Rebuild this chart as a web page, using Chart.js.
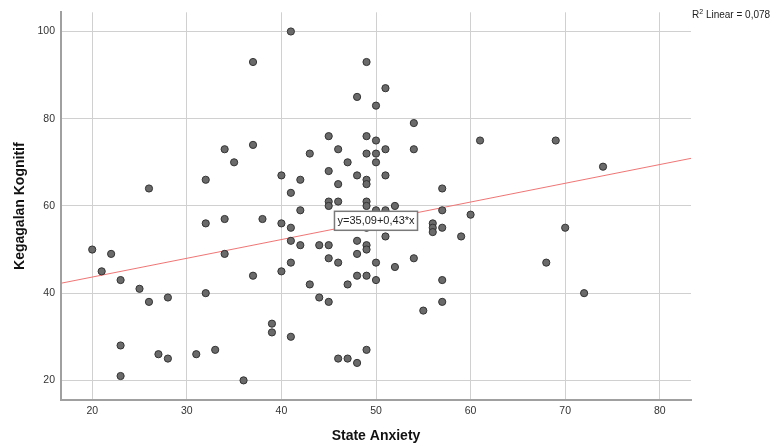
<!DOCTYPE html>
<html>
<head>
<meta charset="utf-8">
<script src="https://cdn.jsdelivr.net/npm/chart.js@4.4.1/dist/chart.umd.min.js"></script>
<style>
html,body{margin:0;padding:0;background:#fff;}
#wrap{width:770px;height:448px;}
</style>
</head>
<body>
<div id="wrap"><canvas id="scatter" width="770" height="448"></canvas></div>
<script>
// State Anxiety (x) vs Kegagalan Kognitif (y)
const anxiety = [20,21,22,23,23,23,25,26,26,27,28,28,31,32,32,32,33,34,34,34,35,36,37,37,37,38,
  39,39,40,40,40,41,41,41,41,41,41,42,42,42,43,43,44,44,45,45,45,45,45,45,45,
  46,46,46,46,46,47,47,47,48,48,48,48,48,48,49,49,49,49,49,49,49,49,49,49,49,49,
  50,50,50,50,50,50,50,51,51,51,51,51,52,52,54,54,54,55,56,56,56,57,57,57,57,57,
  59,60,61,68,69,70,72,74];
const kognitif = [50,45,49,43,28,21,41,64,38,26,39,25,26,66,56,40,27,73,57,49,70,20,93,74,44,57,
  33,31,67,56,45,100,63,55,52,47,30,66,59,51,72,42,51,39,76,68,61,60,51,48,38,
  73,65,61,47,25,70,42,25,85,67,52,49,44,24,93,76,72,66,65,61,60,55,51,50,44,27,
  83,75,72,70,59,47,43,87,73,67,59,53,60,46,79,73,48,36,56,55,54,64,59,55,43,38,
  53,58,75,47,75,55,40,69];
const xTicks = [20,30,40,50,60,70,80];
const yTicks = [20,40,60,80,100];
const xRange = [16.7, 83.3];
const yRange = [15.5, 104.4];
const fitIntercept = 35.09;
const fitSlope = 0.43;
const fitLabel = 'y=35,09+0,43*x';
const r2Text = ' Linear = 0,078';

const points = anxiety.map((x, i) => ({x: x, y: kognitif[i]}));
const fitLine = xRange.map(x => ({x: x, y: fitIntercept + fitSlope * x}));

const FONT = '"Liberation Sans", Arial, sans-serif';

// R2 note + equation label on top of the plot
const notes = {
  id: 'notes',
  afterDatasetsDraw(chart) {
    const ctx = chart.ctx;
    const xs = chart.scales.x, ys = chart.scales.y;
    ctx.save();
    // equation box, centred on the fit line at x = 50
    const lx = 50;
    const px = xs.getPixelForValue(lx);
    const py = ys.getPixelForValue(fitIntercept + fitSlope * lx);
    ctx.font = '11px ' + FONT;
    const w = ctx.measureText(fitLabel).width + 6;
    const h = 19;
    ctx.fillStyle = '#fff';
    ctx.fillRect(px - w / 2, py - h / 2, w, h);
    ctx.strokeStyle = '#7a7a7a';
    ctx.lineWidth = 1.5;
    ctx.strokeRect(px - w / 2, py - h / 2, w, h);
    ctx.fillStyle = '#222';
    ctx.textAlign = 'center';
    ctx.textBaseline = 'middle';
    ctx.fillText(fitLabel, px, py + 0.5);

    // R2 Linear
    let tx = chart.chartArea.right + 1;
    const ty = 15;
    ctx.textAlign = 'left';
    ctx.font = '10px ' + FONT;
    ctx.fillText('R', tx, ty);
    tx += ctx.measureText('R').width;
    ctx.font = '7px ' + FONT;
    ctx.fillText('2', tx, ty - 3);
    tx += ctx.measureText('2').width;
    ctx.font = '10px ' + FONT;
    ctx.fillText(r2Text, tx, ty);
    ctx.restore();
  }
};

new Chart(document.getElementById('scatter'), {
  type: 'scatter',
  data: {
    datasets: [
      {
        type: 'line', data: fitLine, borderColor: '#f07575', borderWidth: 1,
        pointRadius: 0, fill: false, order: 2
      },
      {
        data: points, backgroundColor: '#6a6a6a', borderColor: '#333',
        borderWidth: 1, pointRadius: 3.6, order: 1
      }
    ]
  },
  options: {
    responsive: false,
    animation: false,
    events: [],
    layout: {padding: {left: 0, top: 6, right: 79, bottom: 0}},
    plugins: {legend: {display: false}, tooltip: {enabled: false}},
    scales: {
      x: {
        type: 'linear', min: xRange[0], max: xRange[1],
        afterBuildTicks: s => { s.ticks = xTicks.map(v => ({value: v})); },
        afterFit: s => { s.height = 48; },
        grid: {color: '#d0d0d0', lineWidth: 1, drawTicks: false},
        border: {color: '#a0a0a0', width: 2},
        ticks: {color: '#333', padding: 5, font: {family: FONT, size: 10.5}},
        title: {display: true, text: 'State Anxiety', color: '#111',
          font: {family: FONT, size: 14, weight: 'bold'}, padding: {top: 0, bottom: 3}}
      },
      y: {
        type: 'linear', min: yRange[0], max: yRange[1],
        afterBuildTicks: s => { s.ticks = yTicks.map(v => ({value: v})); },
        afterFit: s => { s.width = 61; },
        grid: {color: '#d0d0d0', lineWidth: 1, drawTicks: false},
        border: {color: '#a0a0a0', width: 2},
        ticks: {color: '#333', padding: 6, font: {family: FONT, size: 10.5}},
        title: {display: true, text: 'Kegagalan Kognitif', color: '#111',
          font: {family: FONT, size: 14, weight: 'bold'}, padding: {top: 12, bottom: 0}}
      }
    }
  },
  plugins: [notes]
});
</script>
</body>
</html>
